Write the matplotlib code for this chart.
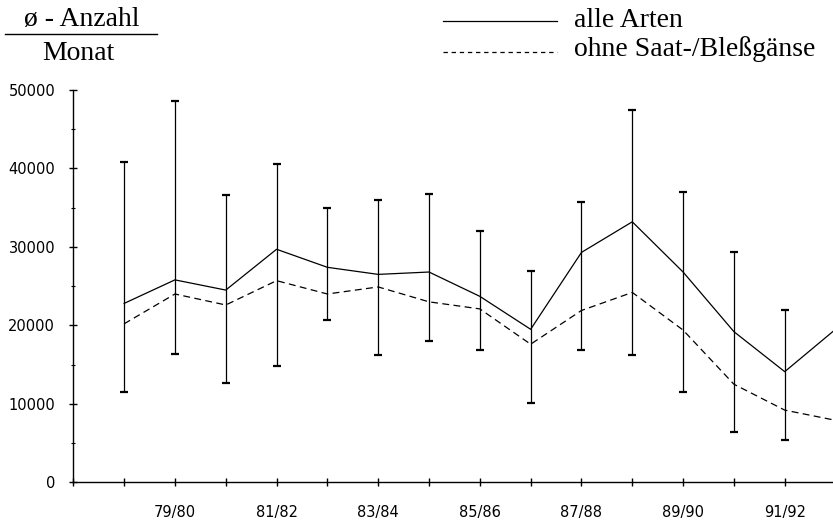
import matplotlib
matplotlib.use("Agg")
import matplotlib.pyplot as plt
from matplotlib.lines import Line2D
from matplotlib.ticker import MultipleLocator

# Winterhalbjahre 78/79 .. 92/93 (Position 1..15 auf der x-Achse)
saisons = ["78/79", "79/80", "80/81", "81/82", "82/83", "83/84", "84/85", "85/86",
           "86/87", "87/88", "88/89", "89/90", "90/91", "91/92", "92/93"]
alle_arten = [22800, 25800, 24500, 29700, 27400, 26500, 26800, 23700,
              19500, 29300, 33200, 26800, 19200, 14100, 19500]
ohne_gaense = [20200, 24000, 22600, 25700, 24000, 24900, 23000, 22100,
               17600, 21900, 24200, 19400, 12500, 9200, 7900]
# Spannweite (Max/Min) nur bis 91/92 sichtbar
maximum = [40800, 48600, 36600, 40600, 34900, 36000, 36800, 32000,
           26900, 35700, 47400, 37000, 29400, 21900]
minimum = [11500, 16300, 12600, 14800, 20700, 16200, 18000, 16900,
           10100, 16800, 16200, 11500, 6400, 5400]
xtick_labels = ["", "", "79/80", "", "81/82", "", "83/84", "", "85/86", "",
                "87/88", "", "89/90", "", "91/92"]
yticks = [0, 10000, 20000, 30000, 40000, 50000]

W, H = 833, 522
fig = plt.figure(figsize=(W / 100, H / 100), dpi=100)
ax = fig.add_axes([73.3 / W, 39.7 / H, (W - 73.3) / W, (482.3 - 90) / H])

x = list(range(1, len(saisons) + 1))
n = len(maximum)
err_lo = [m - lo for m, lo in zip(alle_arten[:n], minimum)]
err_hi = [hi - m for m, hi in zip(alle_arten[:n], maximum)]

ax.errorbar(x[:n], alle_arten[:n], yerr=[err_lo, err_hi], fmt='none', ecolor='black',
            elinewidth=0.9, capsize=3, capthick=1.6)
ax.plot(x, alle_arten, color='black', lw=0.9)
ax.plot(x, ohne_gaense, color='black', lw=0.9, dashes=(5.5, 3.5))

ax.set_xlim(0, 14.95)
ax.set_ylim(0, 50000)
ax.set_xticks(range(len(xtick_labels)))
ax.set_xticklabels(xtick_labels)
ax.set_yticks(yticks)
ax.yaxis.set_minor_locator(MultipleLocator(5000))

for s in ['top', 'right']:
    ax.spines[s].set_visible(False)
for s in ['left', 'bottom']:
    ax.spines[s].set_linewidth(1.0)

ax.tick_params(axis='both', which='major', direction='inout', length=6, width=1,
               labelsize=10.5, colors='black')
ax.tick_params(axis='x', which='major', pad=13)
ax.tick_params(axis='y', which='major', pad=10)
ax.tick_params(axis='y', which='minor', direction='inout', length=3, width=0.8)

serif = ['Liberation Serif', 'DejaVu Serif']

# Einheit oben links
fig.text(82 / W, 1 - 26 / H, "ø - Anzahl", family=serif, fontsize=20,
         ha='center', va='baseline')
fig.add_artist(Line2D([5 / W, 157 / W], [1 - 33.5 / H, 1 - 33.5 / H],
                      color='black', lw=1.0))
fig.text(78 / W, 1 - 60 / H, "Monat", family=serif, fontsize=20,
         ha='center', va='baseline')

# Legende
fig.add_artist(Line2D([443 / W, 557 / W], [1 - 21 / H, 1 - 21 / H],
                      color='black', lw=0.9))
fig.text(574 / W, 1 - 27 / H, "alle Arten", family=serif, fontsize=20,
         ha='left', va='baseline')
fig.add_artist(Line2D([443 / W, 557 / W], [1 - 51.7 / H, 1 - 51.7 / H],
                      color='black', lw=0.9, dashes=(3.5, 3)))
fig.text(574 / W, 1 - 56.5 / H, "ohne Saat-/Bleßgänse", family=serif, fontsize=20,
         ha='left', va='baseline')

fig.savefig("out.png", dpi=100)
